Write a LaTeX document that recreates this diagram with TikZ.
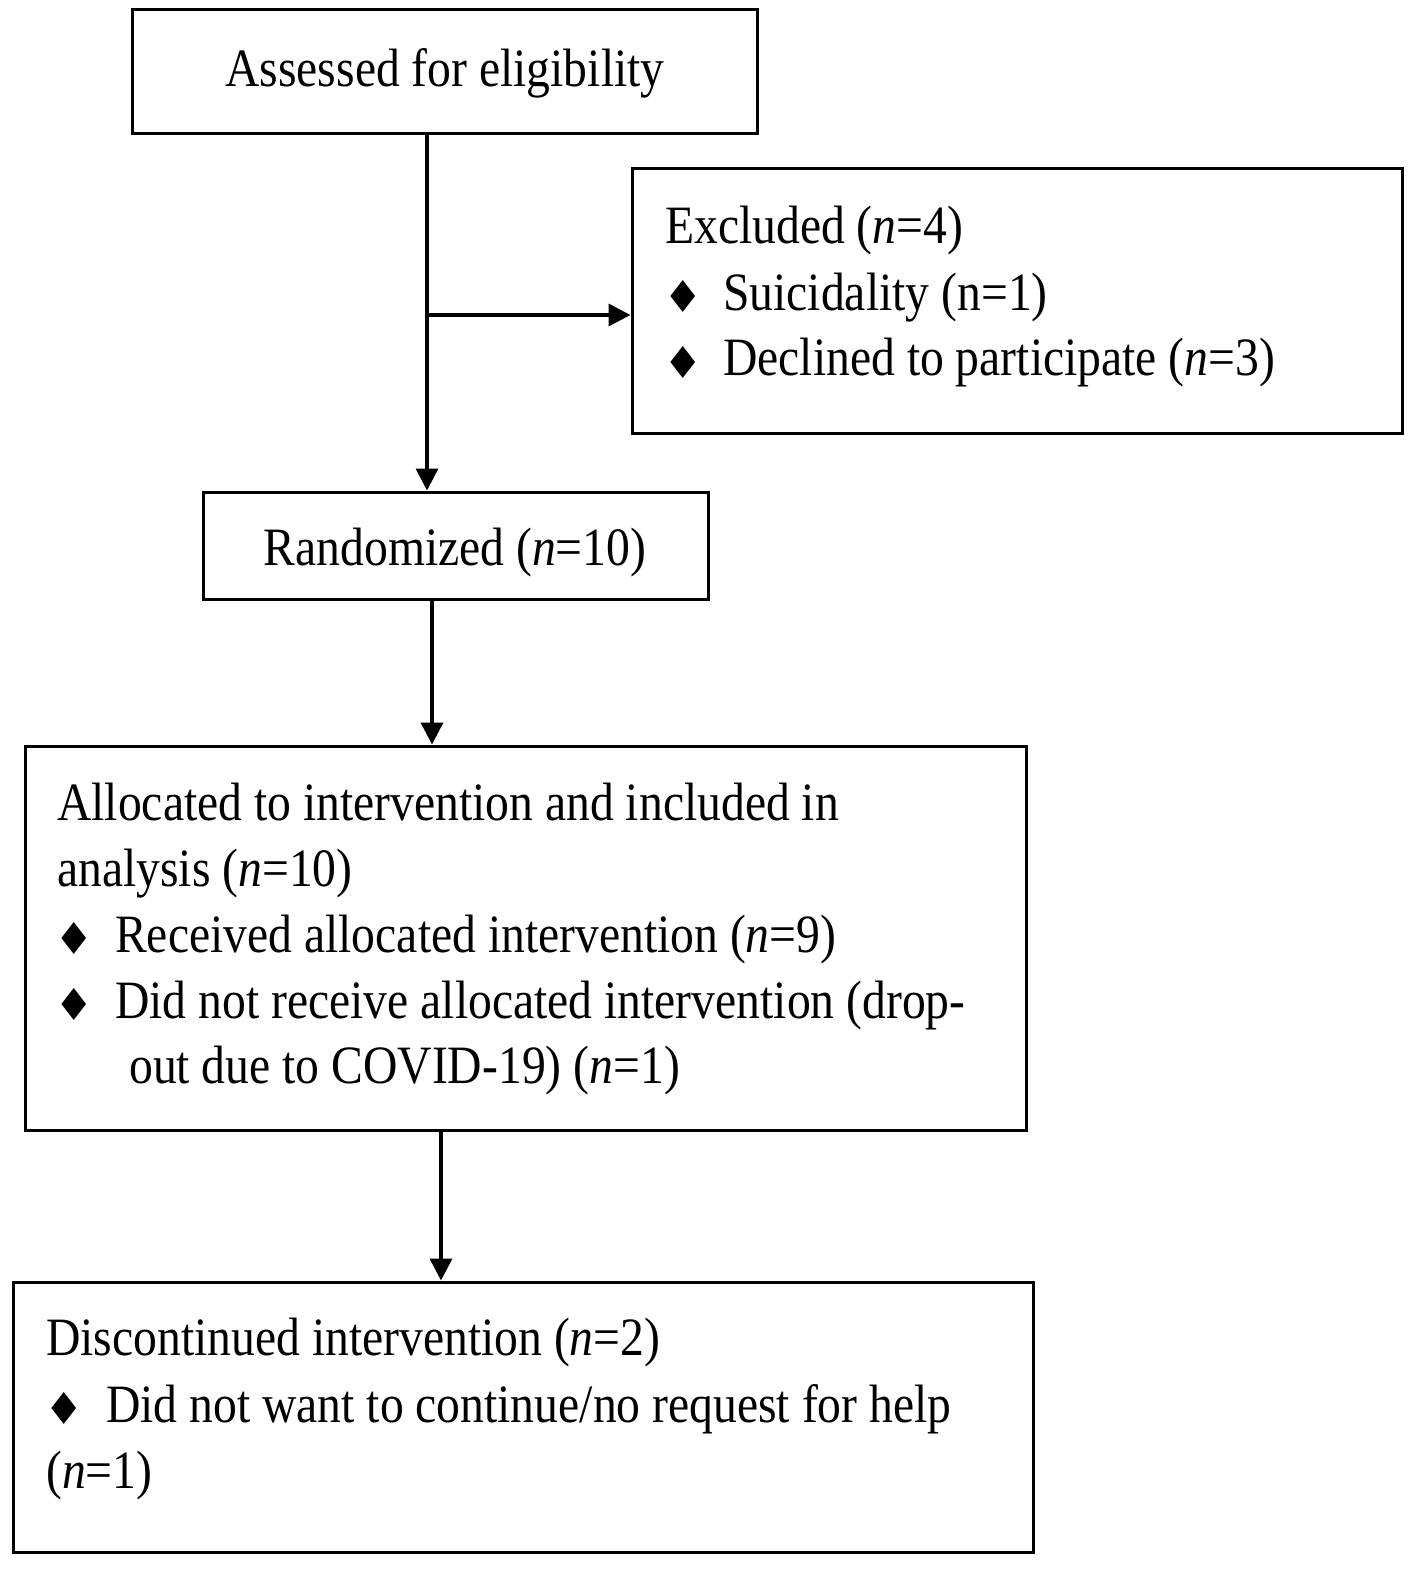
\documentclass[tikz,border=0pt]{standalone}
\usepackage{fontspec}
\setmainfont{Liberation Serif}[FakeStretch=0.882]
\newfontfamily\symfnt{DejaVu Sans}
\usetikzlibrary{arrows.meta}
\tikzset{
  box/.style={draw=black, line width=3pt, rectangle, inner sep=0pt, anchor=center},
  txt/.style={anchor=base west, inner sep=0pt, font=\fontsize{54}{65}\selectfont},
  ctxt/.style={anchor=base, inner sep=0pt, font=\fontsize{54}{65}\selectfont},
  bul/.style={anchor=center, inner sep=0pt, font=\symfnt\fontsize{44}{50}\selectfont},
  arr/.style={line width=3.6pt, -{Triangle[length=22pt,width=22pt]}},
}
\newcommand{\nn}{\textit{n}}
\begin{document}
\begin{tikzpicture}[x=1pt,y=-1pt]
\useasboundingbox[fill=white] (0,0) rectangle (1418,1571);
% boxes
\node[box, minimum width=625pt, minimum height=123pt] (b1) at (444.5,71.5) {};
\node[box, minimum width=770pt, minimum height=265pt] (exc) at (1017,300.5) {};
\node[box, minimum width=505pt, minimum height=107pt] (rnd) at (455.5,545.5) {};
\node[box, minimum width=1001pt, minimum height=384pt] (alc) at (525.5,938) {};
\node[box, minimum width=1020pt, minimum height=270pt] (dis) at (523,1417) {};
% texts
\node[ctxt] (t1) at (445,86) {Assessed for eligibility};
\node[txt] (e1) at (665,243) {Excluded (\nn=4)};
\node[bul] (e2b) at (683,296) {♦};
\node[txt] (e2) at (723,310) {Suicidality (n=1)};
\node[bul] (e3b) at (683,362) {♦};
\node[txt] (e3) at (723,375) {Declined to participate (\nn=3)};
\node[ctxt] (r1) at (455,565) {Randomized (\nn=10)};
\node[txt] (a1) at (57,820) {Allocated to intervention and included in};
\node[txt] (a2) at (57,886) {analysis (\nn=10)};
\node[bul] (a3b) at (74,938) {♦};
\node[txt] (a3) at (115,952) {Received allocated intervention (\nn=9)};
\node[bul] (a4b) at (74,1004) {♦};
\node[txt] (a4) at (115,1018) {Did not receive allocated intervention (drop-};
\node[txt] (a5) at (129,1083) {out due to COVID-19) (\nn=1)};
\node[txt] (d1) at (46,1355) {Discontinued intervention (\nn=2)};
\node[bul] (d2b) at (64,1408) {♦};
\node[txt] (d2) at (106,1422) {Did not want to continue/no request for help};
\node[txt] (d3) at (46,1488) {(\nn=1)};
% connectors
\coordinate (ax1) at (427,0);
\coordinate (br) at (427,315);
\coordinate (ax2) at (432,0);
\coordinate (ax3) at (441,0);
\draw[arr] (ax1 |- b1.south) -- (ax1 |- rnd.north);
\draw[arr] (br) -- (br -| exc.west);
\draw[arr] (ax2 |- rnd.south) -- (ax2 |- alc.north);
\draw[arr] (ax3 |- alc.south) -- (ax3 |- dis.north);
\end{tikzpicture}
\end{document}
